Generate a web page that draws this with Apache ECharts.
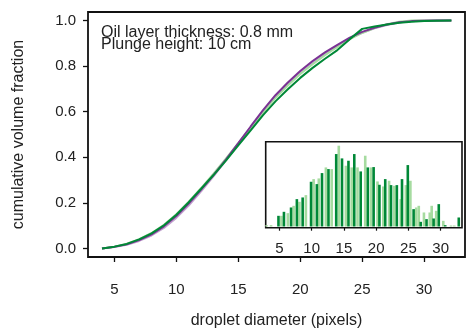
<!DOCTYPE html>
<html>
<head>
<meta charset="utf-8">
<script src="https://cdn.jsdelivr.net/npm/echarts@6/dist/echarts.min.js"></script>
<style>html,body{margin:0;padding:0;background:#fff}#c{width:466px;height:329px}</style>
</head>
<body>
<div id="c"></div>
<script>
// ---- data ----
const xTicks = [5, 10, 15, 20, 25, 30];
const yTicks = [0, 0.2, 0.4, 0.6, 0.8, 1.0];
const diam = [4,5,6,7,8,9,10,11,12,13,14,15,16,17,18,19,20,21,22,23,24,25,26,27,28,29,30,31,32.2];
const cdfDarkGreen  = [0,0.008,0.02,0.04,0.066,0.102,0.148,0.203,0.262,0.322,0.385,0.452,0.518,0.585,0.645,0.698,0.748,0.792,0.832,0.87,0.918,0.963,0.973,0.982,0.99,0.994,0.997,0.999,1.0];
const cdfDarkPurple = [0,0.007,0.018,0.037,0.062,0.097,0.142,0.197,0.258,0.322,0.39,0.462,0.535,0.607,0.672,0.728,0.778,0.822,0.86,0.893,0.925,0.95,0.968,0.982,0.992,0.997,0.999,1.0,1.0];
const cdfLightPurple= [0,0.006,0.016,0.033,0.057,0.09,0.134,0.188,0.25,0.316,0.386,0.458,0.53,0.6,0.667,0.725,0.773,0.815,0.853,0.888,0.92,0.946,0.966,0.98,0.991,0.997,1.0,1.0,1.0];
const cdfLightGreen = [0,0.008,0.021,0.041,0.068,0.104,0.15,0.205,0.265,0.328,0.394,0.462,0.53,0.597,0.66,0.715,0.765,0.808,0.848,0.884,0.918,0.945,0.967,0.983,0.994,1.0,1.0,1.0,1.0];
// inset histogram: bin positions and counts
const histDarkX = [4.85,5.7,6.8,7.7,8.6,9.9,10.8,11.6,12.6,13.8,14.7,15.7,16.6,17.6,18.7,19.6,20.5,21.4,22.3,23.2,24.0,24.9,25.8,26.9,27.8,28.9,29.7,30.7,32.8];
const histDarkN = [32,44,57,82,87,134,127,160,172,217,204,197,217,165,177,178,125,142,124,124,142,184,52,14,22,24,67,4,27];
const histLightX = [3.0,3.7,5.3,6.3,7.2,8.1,9.1,10.3,11.1,12.2,13.1,14.2,15.3,16.2,17.1,18.3,19.2,20.2,21.1,22.0,22.8,23.8,24.6,25.3,26.2,26.6,27.4,28.3,28.6,29.3,30.4,31.6,32.1];
const histLightN = [4,4,32,40,62,74,94,142,144,177,172,242,182,177,177,212,177,135,120,137,122,82,124,137,57,62,42,42,62,47,17,3,3];
const annotation = ['Oil layer thickness: 0.8 mm', 'Plunge height: 10 cm'];
const xName = 'droplet diameter (pixels)';
const yName = 'cumulative volume fraction';

// ---- chart ----
const FONT = '"Liberation Sans", Arial, sans-serif';
const zip = (a, b) => a.map((v, i) => [v, b[i]]);
const chart = echarts.init(document.getElementById('c'), null, {renderer: 'canvas'});
const lineS = (data, color) => ({
  type: 'line', xAxisIndex: 0, yAxisIndex: 0, data: zip(diam, data),
  showSymbol: false, smooth: false, lineStyle: {color: color, width: 2}, itemStyle: {color: color},
  silent: true, animation: false
});
chart.setOption({
  animation: false,
  grid: [
    {left: 88, top: 12, right: 1, bottom: 72, outerBoundsMode: 'none', containLabel: false,
     show: true, borderColor: '#111', borderWidth: 1.8, backgroundColor: 'transparent'},
    {left: 265.7, top: 141.7, width: 196.3, height: 86, outerBoundsMode: 'none', containLabel: false,
     show: true, borderColor: '#111', borderWidth: 1.6, backgroundColor: '#fff'}
  ],
  xAxis: [
    {type: 'value', gridIndex: 0, min: 2.87, max: 33.3, splitLine: {show: false},
     axisLine: {show: false, onZero: false},
     axisTick: {show: true, length: 5, inside: false, customValues: xTicks, lineStyle: {color: '#111', width: 1.3}},
     axisLabel: {customValues: xTicks, margin: 25, fontSize: 15, color: '#222', fontFamily: FONT},
     name: xName, nameLocation: 'middle', nameGap: 56, nameTextStyle: {fontSize: 16, color: '#222', fontFamily: FONT}},
    {type: 'value', gridIndex: 1, min: 2.87, max: 33.3, splitLine: {show: false},
     axisLine: {show: false, onZero: false},
     axisTick: {show: true, length: 3, inside: false, customValues: xTicks, lineStyle: {color: '#111', width: 1.2}},
     axisLabel: {customValues: xTicks, margin: 14, fontSize: 15, color: '#222', fontFamily: FONT}}
  ],
  yAxis: [
    {type: 'value', gridIndex: 0, min: -0.0374, max: 1.037, splitLine: {show: false},
     axisLine: {show: false, onZero: false},
     axisTick: {show: true, length: 5, inside: false, customValues: yTicks, lineStyle: {color: '#111', width: 1.3}},
     axisLabel: {customValues: yTicks, margin: 12, fontSize: 15, color: '#222', fontFamily: FONT,
                 formatter: v => Number(v).toFixed(1)},
     name: yName, nameLocation: 'middle', nameGap: 61, nameTextStyle: {fontSize: 16, color: '#222', fontFamily: FONT}},
    {type: 'value', gridIndex: 1, min: -3.6, max: 254, show: false, splitLine: {show: false}}
  ],
  series: [
    lineS(cdfLightPurple, '#c2a5cf'),
    lineS(cdfLightGreen, '#a6dba0'),
    lineS(cdfDarkPurple, '#7b3294'),
    lineS(cdfDarkGreen, '#008837'),
    {type: 'bar', xAxisIndex: 1, yAxisIndex: 1, data: zip(histLightX, histLightN), barWidth: 2.6, barGap: '-100%',
     itemStyle: {color: '#a6dba0'}, silent: true},
    {type: 'bar', xAxisIndex: 1, yAxisIndex: 1, data: zip(histDarkX, histDarkN), barWidth: 2.6, barGap: '-100%',
     itemStyle: {color: '#008837'}, silent: true}
  ],
  graphic: [
    {type: 'text', left: 101, top: 25, silent: true,
     style: {text: annotation[0], fontSize: 16, lineHeight: 12, fill: '#222', fontFamily: FONT}},
    {type: 'text', left: 101, top: 36.5, silent: true,
     style: {text: annotation[1], fontSize: 16, lineHeight: 12, fill: '#222', fontFamily: FONT}}
  ]
});
</script>
</body>
</html>
